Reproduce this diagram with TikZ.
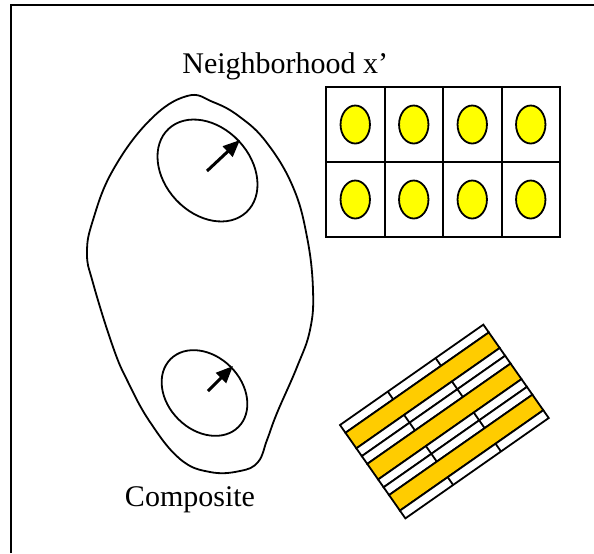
\documentclass[tikz,border=0pt]{standalone}
\usepackage{fontspec}
\setmainfont{Liberation Serif}
\usetikzlibrary{arrows.meta}
\definecolor{nucleusyellow}{HTML}{FFFF00}
\definecolor{slatgold}{HTML}{FFCC00}
\tikzset{
  outline/.style={line width=0.9pt},
  cellbox/.style={draw, line width=1pt},
  nucleus/.style={draw, fill=nucleusyellow, line width=0.9pt},
  whiteslat/.style={draw, fill=white, line width=0.9pt},
  goldslat/.style={draw, fill=slatgold, line width=0.9pt},
  move/.style={line width=1.5pt, -{Triangle[length=8.5pt,width=7pt]}},
  title/.style={font=\fontsize{15}{18}\selectfont, inner sep=0pt}
}
\begin{document}
\begin{tikzpicture}[x=0.5pt,y=-0.5pt]
\useasboundingbox (0,0) rectangle (594,553);
% frame, only top and left
\draw[line width=1.2pt] (11,553) -- (11,5) -- (594,5);

% composite
\draw[outline] plot[smooth cycle, tension=0.7] coordinates {
  (187,96) (213,102) (240,117) (267,143) (293,187) (307,237) (313,290)
  (310,330) (297,367) (277,413) (267,440) (258,462) (240,471)
  (210,472) (180,459) (150,422) (128,382) (113,347) (93,283) (87,253)
  (93,220) (113,170) (150,120)};
\draw[outline, rotate around={-47:(207.5,170.5)}] (207.5,170.5) ellipse [x radius=57, y radius=43];
\draw[outline, rotate around={-45:(204.5,393)}] (204.5,393) ellipse [x radius=48, y radius=37];
\coordinate (topfrom) at (207,171);
\coordinate (topto) at (240,140);
\coordinate (botfrom) at (208,391);
\coordinate (botto) at (233,366);
\draw[move] (topfrom) -- (topto);
\draw[move] (botfrom) -- (botto);
\node[title, anchor=base] (composite) at (190,506) {Composite};

% neighborhood
\node[title, anchor=base west] (neighborhood) at (182,73) {Neighborhood x’};
\foreach \col in {0,...,3}
  \foreach \row in {0,1} {
    \draw[cellbox] (326+58.5*\col,87+75*\row) rectangle ++(58.5,75);
    \draw[nucleus] (355.25+58.5*\col,124.5+75*\row) ellipse [x radius=14.7, y radius=19];
  }

% tilted slats
\begin{scope}[shift={(340,425)}, rotate=35]
\foreach \v/\h/\kind in {0/1/whiteslat, 1/2/goldslat, 3/1/whiteslat, 4/1/whiteslat,
    5/2/goldslat, 7/1/whiteslat, 8/1/whiteslat, 9/2/goldslat, 11/1/whiteslat}
  \draw[\kind] (0,9.5*\v) rectangle (175,9.5*\v+9.5*\h);
\foreach \v in {0,3,4,7,8,11}
  \foreach \u in {58.3,116.7}
    \draw[line width=0.9pt] (\u,9.5*\v) -- (\u,9.5*\v+9.5);
\end{scope}
\end{tikzpicture}
\end{document}
